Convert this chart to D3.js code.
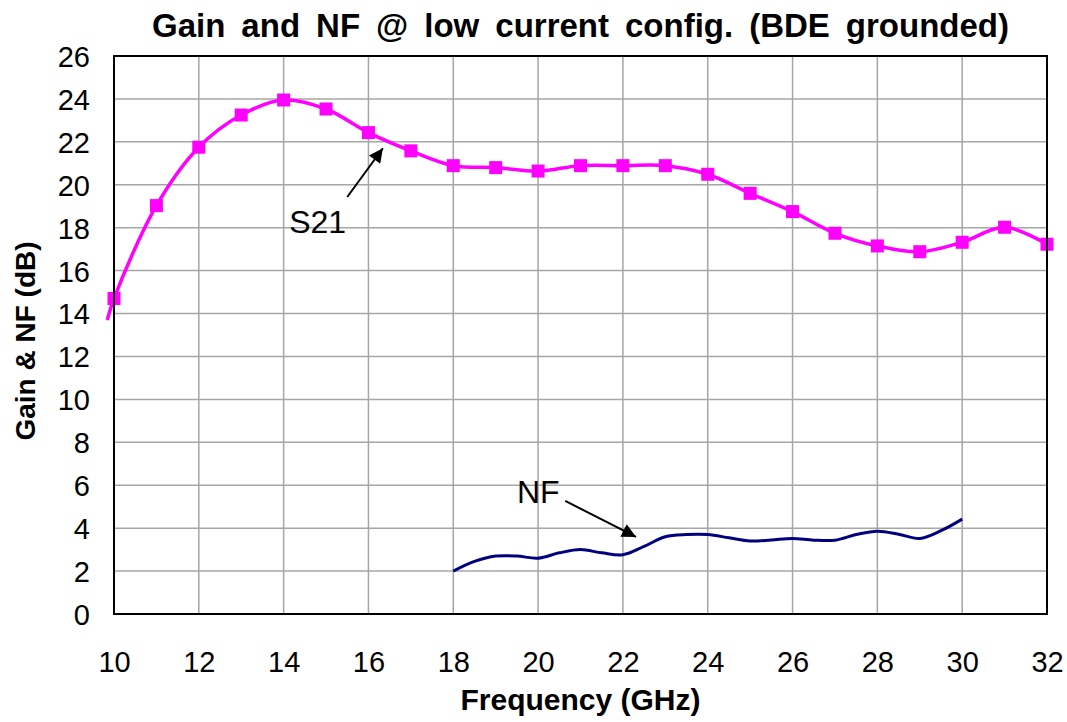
<!DOCTYPE html>
<html>
<head>
<meta charset="utf-8">
<script src="https://cdn.jsdelivr.net/npm/d3@7"></script>
<style>
  body { margin: 0; background: #fff; }
  text { font-family: "Liberation Sans", Arial, sans-serif; }
</style>
</head>
<body>
<script>
  // S21 (gain) - first point sits just left of the axis, no marker there
  const s21Freq = [9.84, 10, 11, 12, 13, 14, 15, 16, 17, 18, 19, 20, 21, 22, 23, 24, 25, 26, 27, 28, 29, 30, 31, 32];
  const s21Gain = [13.7, 14.7, 19.03, 21.75, 23.25, 23.95, 23.53, 22.43, 21.58, 20.89, 20.8, 20.64, 20.89, 20.89, 20.89, 20.49, 19.6, 18.75, 17.74, 17.15, 16.88, 17.32, 18.02, 17.23];
  const s21Marked = [false, true, true, true, true, true, true, true, true, true, true, true, true, true, true, true, true, true, true, true, true, true, true, true];

  // NF
  const nfFreq = [18, 18.5, 19, 19.5, 20, 20.5, 21, 21.5, 22, 22.5, 23, 23.5, 24, 24.5, 25, 25.5, 26, 26.5, 27, 27.5, 28, 28.5, 29, 29.5, 30];
  const nfVal = [2.0, 2.45, 2.7, 2.7, 2.6, 2.85, 3.0, 2.85, 2.76, 3.15, 3.6, 3.7, 3.7, 3.55, 3.4, 3.45, 3.52, 3.44, 3.44, 3.7, 3.86, 3.72, 3.52, 3.88, 4.42];

  const xTicks = [10, 12, 14, 16, 18, 20, 22, 24, 26, 28, 30, 32];
  const yTicks = [0, 2, 4, 6, 8, 10, 12, 14, 16, 18, 20, 22, 24, 26];

  const width = 1067;
  const height = 722;
  const margin = { top: 56, right: 20, bottom: 108, left: 114 };

  const svg = d3.select('body')
    .append('svg')
    .attr('width', width)
    .attr('height', height);

  const x = d3.scaleLinear()
    .domain([10, 32])
    .range([margin.left, width - margin.right]);

  const y = d3.scaleLinear()
    .domain([0, 26])
    .range([height - margin.bottom, margin.top]);

  // grid
  svg.append('g')
    .selectAll('line')
    .data(xTicks)
    .join('line')
    .attr('x1', (d) => x(d))
    .attr('x2', (d) => x(d))
    .attr('y1', y(0))
    .attr('y2', y(26))
    .attr('stroke', '#a6a6a6')
    .attr('stroke-width', 1.5);

  svg.append('g')
    .selectAll('line')
    .data(yTicks)
    .join('line')
    .attr('x1', x(10))
    .attr('x2', x(32))
    .attr('y1', (d) => y(d))
    .attr('y2', (d) => y(d))
    .attr('stroke', '#a6a6a6')
    .attr('stroke-width', 1.5);

  // axes (labels only, frame drawn below)
  const xAxis = svg.append('g')
    .attr('transform', `translate(0,${y(0)})`)
    .call(d3.axisBottom(x).tickValues(xTicks).tickSize(0).tickPadding(58));
  const yAxis = svg.append('g')
    .attr('transform', `translate(${x(10)},0)`)
    .call(d3.axisLeft(y).tickValues(yTicks).tickSize(0).tickPadding(24));
  [xAxis, yAxis].forEach((g) => {
    g.select('.domain').remove();
    g.selectAll('text')
      .attr('font-size', 29)
      .attr('font-family', '"Liberation Sans", Arial, sans-serif')
      .attr('fill', '#000');
  });
  xAxis.selectAll('text').attr('dy', '0');
  yAxis.selectAll('text').attr('dy', '0.36em');

  // S21 line
  const s21 = s21Freq.map((f, i) => ({ f, v: s21Gain[i], m: s21Marked[i] }));
  const line = d3.line()
    .x((d) => x(d.f))
    .y((d) => y(d.v))
    .curve(d3.curveCatmullRom.alpha(0.5));

  svg.append('path')
    .datum(s21)
    .attr('d', line)
    .attr('fill', 'none')
    .attr('stroke', '#ff00ff')
    .attr('stroke-width', 3.5);

  const ms = 13;
  svg.append('g')
    .selectAll('rect')
    .data(s21.filter((d) => d.m))
    .join('rect')
    .attr('x', (d) => x(d.f) - ms / 2)
    .attr('y', (d) => y(d.v) - ms / 2)
    .attr('width', ms)
    .attr('height', ms)
    .attr('fill', '#ff00ff');

  // NF line
  const nf = nfFreq.map((f, i) => ({ f, v: nfVal[i] }));
  svg.append('path')
    .datum(nf)
    .attr('d', line)
    .attr('fill', 'none')
    .attr('stroke', '#000080')
    .attr('stroke-width', 3);

  // plot frame
  svg.append('rect')
    .attr('x', x(10))
    .attr('y', y(26))
    .attr('width', x(32) - x(10))
    .attr('height', y(0) - y(26))
    .attr('fill', 'none')
    .attr('stroke', '#000')
    .attr('stroke-width', 2);

  // annotations with arrows
  svg.append('defs').append('marker')
    .attr('id', 'head')
    .attr('viewBox', '0 0 10 10')
    .attr('refX', 10)
    .attr('refY', 5)
    .attr('markerWidth', 8)
    .attr('markerHeight', 7)
    .attr('markerUnits', 'strokeWidth')
    .attr('orient', 'auto')
    .append('path')
    .attr('d', 'M0,0 L10,5 L0,10 Z')
    .attr('fill', '#000');

  const notes = [
    { label: 'S21', tx: 14.13, ty: 17.75, x1: 15.5, y1: 19.43, x2: 16.34, y2: 21.7 },
    { label: 'NF', tx: 19.5, ty: 5.17, x1: 20.64, y1: 5.27, x2: 22.31, y2: 3.59 },
  ];
  notes.forEach((n) => {
    svg.append('text')
      .attr('x', x(n.tx))
      .attr('y', y(n.ty))
      .attr('font-size', 32)
      .text(n.label);
    svg.append('line')
      .attr('x1', x(n.x1))
      .attr('y1', y(n.y1))
      .attr('x2', x(n.x2))
      .attr('y2', y(n.y2))
      .attr('stroke', '#000')
      .attr('stroke-width', 2)
      .attr('marker-end', 'url(#head)');
  });

  // titles
  const title = svg.append('text')
    .attr('x', (x(10) + x(32)) / 2)
    .attr('y', 37)
    .attr('text-anchor', 'middle')
    .attr('font-size', 33)
    .attr('font-weight', 'bold')
    .text('Gain and NF @ low current config. (BDE grounded)');
  const tw = title.node().getComputedTextLength();
  title.attr('word-spacing', Math.max(0, (857 - tw) / 8));

  svg.append('text')
    .attr('x', (x(10) + x(32)) / 2)
    .attr('y', 710)
    .attr('text-anchor', 'middle')
    .attr('font-size', 30)
    .attr('font-weight', 'bold')
    .text('Frequency (GHz)');

  svg.append('text')
    .attr('transform', `translate(35,${(y(0) + y(26)) / 2 + 6}) rotate(-90)`)
    .attr('text-anchor', 'middle')
    .attr('font-size', 28)
    .attr('font-weight', 'bold')
    .text('Gain & NF (dB)');
</script>
</body>
</html>
